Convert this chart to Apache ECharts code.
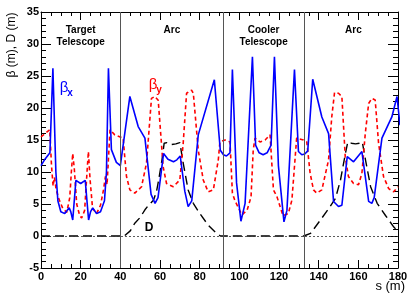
<!DOCTYPE html>
<html><head><meta charset="utf-8">
<script src="https://cdn.jsdelivr.net/npm/echarts@6/dist/echarts.min.js"></script>
<style>html,body{margin:0;padding:0;background:#fff}#c{width:415px;height:298px}</style>
</head><body><div id="c"></div>
<script>
// ---- data (s in m) ----
const betaXS = [0,2,4.5,6,7.5,8.5,10,12,14.2,15,16,17.6,20,22.3,24,25,26.1,28,30,32,33,34,35.5,38,40,41,44.8,49,52.4,55.5,57.5,59,61.8,64,66.8,68.5,70.2,72.5,74.2,76,79.3,87.4,90.4,92,93.5,95.3,96.5,98.6,100.8,102.9,106.6,108.2,110,112,114,116,117.7,119.7,122.5,124,127.8,129.8,131.5,133,134.5,137,141.6,145,147.5,150,151.7,154.4,157.6,161.8,165.2,166.8,168,171.9,176.9,179.5,181];
const betaX  = [11,12,13,26.2,10,5.5,3.8,3.5,4.4,3.8,2.5,8.7,8.2,8.7,2.5,3.8,4.4,3.5,3.8,5.5,10,26.2,13.5,11.5,11,11.2,21.8,17.1,15.3,6.5,5.1,6,12.9,12,11.6,11.9,12.5,7,4.6,5.5,15.8,24.4,13.4,12.7,12.5,13,26,8.3,2.3,5.1,28,14.2,13,12.7,13,14.2,28,11,2.2,4,26,13.2,12.7,12.8,13.3,24.5,18.6,16,5.4,4.6,4.8,12.4,11.6,13.2,5.4,5.1,6,15.3,18.6,21.8,17.3];
const betaYS = [0,2,4.4,5.3,6.1,6.8,7.6,9,11,13,14.5,15.3,16,16.8,18,19.5,20.5,22,23.2,23.9,24.7,26,28,30,31.5,32.5,33.3,34,34.8,37.2,41.4,43.1,44.8,47.3,50.7,53.2,55.7,57.4,59.1,61.6,63.3,66.7,70,71.7,73.4,75.9,76.8,79.3,81.8,84.3,86.9,89.4,90.2,92.8,95.3,96.5,97.8,98.8,101.3,103.9,105.9,107,107.9,110.4,113,115.5,117.2,118.9,122,124.7,126.5,128.9,132.3,134,135.7,137.4,139,141.6,145,146.6,148,150,151.7,153.4,155,157.6,160.1,161.8,163.5,165.2,166.8,168.5,170.2,172.7,175.3,177.8,180];
const betaY  = [15.5,16,16.6,11,7.8,9.2,7.3,5.8,4.3,3.7,6,10,12.9,10.5,5,3.2,2.8,4,10,13.2,9,4.3,3.5,4.8,7.2,9.3,8,12,16.6,15.8,15.3,9.3,7.2,6.7,7.7,11.4,21.5,21.8,21.2,10.8,8.2,7.7,8.75,14.5,22.3,22.8,22.3,13.4,8.75,6.9,7.2,11.9,14.7,15,14.7,6.7,5.5,5.3,3.3,4,6.1,13.4,15.3,14.7,15,15.8,7.2,6.2,3.2,3.5,5.6,15.3,15,14.7,9.8,7.2,6.7,7.2,11.9,18.6,22.4,22.3,21.8,12.4,9.3,8.2,8,9.8,16,20.7,21.5,21.25,14.5,9.3,7.4,6.9,7.7];
const dispS  = [0,42,43,45,47.3,50,52.4,54.2,56.7,58.2,59.3,61,62.1,63.5,65.8,68,70,71.7,74.2,76.8,80.1,84.3,88.5,90.5,132.5,135.9,140.9,145.1,148.5,151,153.5,154.7,156.5,158.6,160.5,162,163.6,166.2,169.5,173.7,177.9,180];
const disp   = [0,0,0.3,0.8,2,2.9,4.1,4.8,5.6,6.9,8.7,11.9,14.5,14.6,14.3,14.4,14.6,11.4,7.2,5.1,3.5,1.7,0.4,0,0,0.4,2.5,4.3,5.9,8.75,12.9,14.7,14.5,14.4,14.5,14.7,11.9,7.7,5.1,3.2,1.4,0.7];
const sectionBounds  = [40, 92, 132.5];
const sectionNames   = ['Target\nTelescope', 'Arc', 'Cooler\nTelescope', 'Arc'];
const sectionCenters = [20, 66, 112.25, 157.5];

const zip = (a, b) => a.map((v, i) => [v, b[i]]);
const FONT = 'Liberation Sans, Arial, Helvetica, sans-serif';

const chart = echarts.init(document.getElementById('c'), null, {renderer: 'canvas'});

function xAx(pos, labels) {
  return {
    type: 'value', min: 0, max: 180, interval: 20, position: pos,
    axisLine: {show: true, onZero: false, lineStyle: {color: '#000', width: 1}},
    axisTick: {show: true, inside: true, length: 8, lineStyle: {color: '#000'}},
    minorTick: {show: true, splitNumber: 4, length: 4, lineStyle: {color: '#000'}},
    axisLabel: {show: labels, color: '#000', fontWeight: 'bold', fontSize: 11, fontFamily: FONT, margin: 3},
    splitLine: {show: false}, minorSplitLine: {show: false}
  };
}
function yAx(pos, labels) {
  return {
    type: 'value', min: -5, max: 35, interval: 5, position: pos,
    axisLine: {show: true, onZero: false, lineStyle: {color: '#000', width: 1}},
    axisTick: {show: true, inside: true, length: 10, lineStyle: {color: '#000'}},
    minorTick: {show: true, splitNumber: 5, length: 5, lineStyle: {color: '#000'}},
    axisLabel: {show: labels, color: '#000', fontWeight: 'bold', fontSize: 11, fontFamily: FONT, margin: 2},
    splitLine: {show: false}, minorSplitLine: {show: false}
  };
}

chart.setOption({
  animation: false,
  backgroundColor: '#fff',
  grid: {left: 41, right: 17, top: 12, bottom: 30, containLabel: false},
  xAxis: [xAx('bottom', true), xAx('top', false)],
  yAxis: [yAx('left', true), yAx('right', false)],
  series: [
    {
      type: 'line', name: 'D', data: zip(dispS, disp), showSymbol: false, clip: true,
      lineStyle: {color: '#000', width: 1.4, type: [9, 5]},
      markLine: {
        silent: true, symbol: 'none', label: {show: false}, animation: false,
        data: sectionBounds.map(b => ({xAxis: b, lineStyle: {color: '#555', width: 1, type: 'solid'}}))
          .concat([{yAxis: 0, lineStyle: {color: '#333', width: 0.8, type: [2, 2]}}])
      }
    },
    {
      type: 'line', name: 'betaY', data: zip(betaYS, betaY), showSymbol: false, clip: true,
      lineStyle: {color: '#ff0000', width: 1.6, type: [4, 3]}
    },
    {
      type: 'line', name: 'betaX', data: zip(betaXS, betaX), showSymbol: false, clip: true,
      lineStyle: {color: '#0000ff', width: 1.6, type: 'solid'}
    }
  ]
});

const P = (s, v) => chart.convertToPixel({gridIndex: 0}, [s, v]);
const g = [];
sectionNames.forEach((n, i) => {
  const p = P(sectionCenters[i], 0);
  const lines = n.split('\n');
  lines.forEach((t, j) => {
    g.push({type: 'text', x: p[0], y: 30.5 + j * 12,
      style: {text: t, fill: '#000', font: 'bold 10px ' + FONT, textAlign: 'center', textVerticalAlign: 'middle'}});
  });
});
// curve labels
let p = P(11.6, 23.1);
g.push({type: 'text', x: p[0], y: p[1], style: {text: 'β', fill: '#0000ff', font: '15px ' + FONT, textAlign: 'center', textVerticalAlign: 'middle'}});
g.push({type: 'text', x: p[0] + 6, y: p[1] + 5, style: {text: 'x', fill: '#0000ff', font: 'bold 10px ' + FONT, textAlign: 'center', textVerticalAlign: 'middle'}});
p = P(56.5, 23.6);
g.push({type: 'text', x: p[0], y: p[1], style: {text: 'β', fill: '#ff0000', font: '15px ' + FONT, textAlign: 'center', textVerticalAlign: 'middle'}});
g.push({type: 'text', x: p[0] + 6, y: p[1] + 5, style: {text: 'y', fill: '#ff0000', font: 'bold 10px ' + FONT, textAlign: 'center', textVerticalAlign: 'middle'}});
p = P(54.5, 1.3);
g.push({type: 'text', x: p[0], y: p[1], style: {text: 'D', fill: '#000', font: 'bold 12px ' + FONT, textAlign: 'center', textVerticalAlign: 'middle'}});
// axis titles
g.push({type: 'text', x: 12, y: 45, rotation: Math.PI / 2,
  style: {text: 'β (m), D (m)', fill: '#000', font: '12px ' + FONT, textAlign: 'center', textVerticalAlign: 'middle'}});
g.push({type: 'text', x: 405, y: 286,
  style: {text: 's (m)', fill: '#000', font: '13px ' + FONT, textAlign: 'right', textVerticalAlign: 'middle'}});
chart.setOption({graphic: g});
</script></body></html>
